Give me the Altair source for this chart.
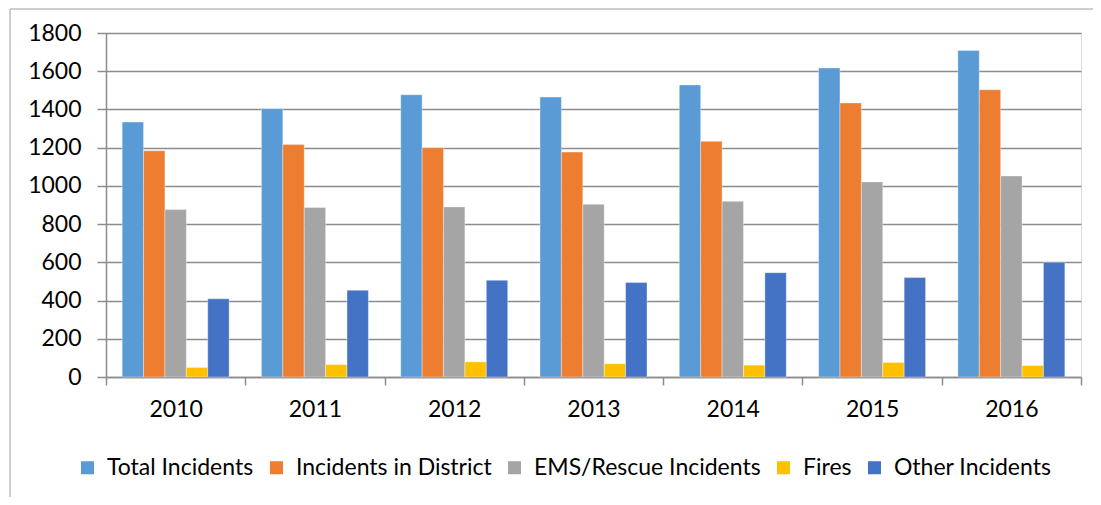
import altair as alt
import pandas as pd

years = ["2010", "2011", "2012", "2013", "2014", "2015", "2016"]
series = ["Total Incidents", "Incidents in District", "EMS/Rescue Incidents", "Fires", "Other Incidents"]
total = [1334, 1404, 1477, 1465, 1528, 1617, 1709]
district = [1184, 1216, 1200, 1177, 1233, 1434, 1503]
ems = [876, 887, 890, 904, 919, 1021, 1052]
fires = [50, 65, 79, 69, 62, 76, 60]
other = [409, 454, 506, 494, 546, 520, 600]
colors = ["#5B9BD5", "#ED7D31", "#A5A5A5", "#FFC000", "#4472C4"]

rows = []
for name, vals in zip(series, [total, district, ems, fires, other]):
    for y, v in zip(years, vals):
        rows.append({"Year": y, "Series": name, "Value": v})
df = pd.DataFrame(rows)

FONT = "Lato"

bars = alt.Chart(df).mark_bar(stroke="white", strokeWidth=0.6, strokeOpacity=0.6).encode(
    x=alt.X("Year:N", sort=years, title=None,
            scale=alt.Scale(paddingInner=0, paddingOuter=0),
            axis=alt.Axis(labelAngle=0, tickBand="extent", tickSize=8, tickColor="#8C8C8C",
                          tickWidth=1.5, domainColor="#8C8C8C", domainWidth=1.5,
                          labelFontSize=23, labelPadding=13, labelColor="#000000",
                          labelFont=FONT, grid=False)),
    xOffset=alt.XOffset("Series:N", sort=series, scale=alt.Scale(paddingInner=0, paddingOuter=0.755)),
    y=alt.Y("Value:Q", title=None,
            scale=alt.Scale(domain=[0, 1800], nice=False),
            axis=alt.Axis(values=list(range(0, 1801, 200)), format="d", tickSize=9,
                          tickColor="#8C8C8C", tickWidth=1.5, domainColor="#8C8C8C",
                          domainWidth=1.5, gridColor="#8C8C8C", gridWidth=1.5,
                          labelFontSize=23, labelPadding=16, labelColor="#000000",
                          labelFont=FONT)),
    color=alt.Color("Series:N", sort=series,
                    scale=alt.Scale(domain=series, range=colors),
                    legend=alt.Legend(title=None, orient="none", direction="horizontal",
                                      columns=5, legendX=-30, legendY=423,
                                      symbolType="square", symbolSize=170,
                                      symbolStrokeWidth=0, labelFontSize=23,
                                      labelFont=FONT, labelColor="#000000",
                                      columnPadding=11, labelOffset=8, labelLimit=400)),
)

frame_top = alt.Chart(pd.DataFrame({"a": [0]})).mark_rule(color="#BFBFBF", strokeWidth=1.5).encode(
    x=alt.value(-96), x2=alt.value(1100), y=alt.value(-24)
)
frame_left = alt.Chart(pd.DataFrame({"a": [0]})).mark_rule(color="#BFBFBF", strokeWidth=1.5).encode(
    x=alt.value(-96), y=alt.value(-24), y2=alt.value(500)
)

chart = alt.layer(bars, frame_top, frame_left).properties(
    width=975, height=344,
    autosize=alt.AutoSizeParams(type="none"),
    padding={"left": 98, "top": 25, "right": 12, "bottom": 120},
).configure_view(stroke=None).configure(background="white")

chart.save("out.html", embed_options={"renderer": "svg", "actions": False})
